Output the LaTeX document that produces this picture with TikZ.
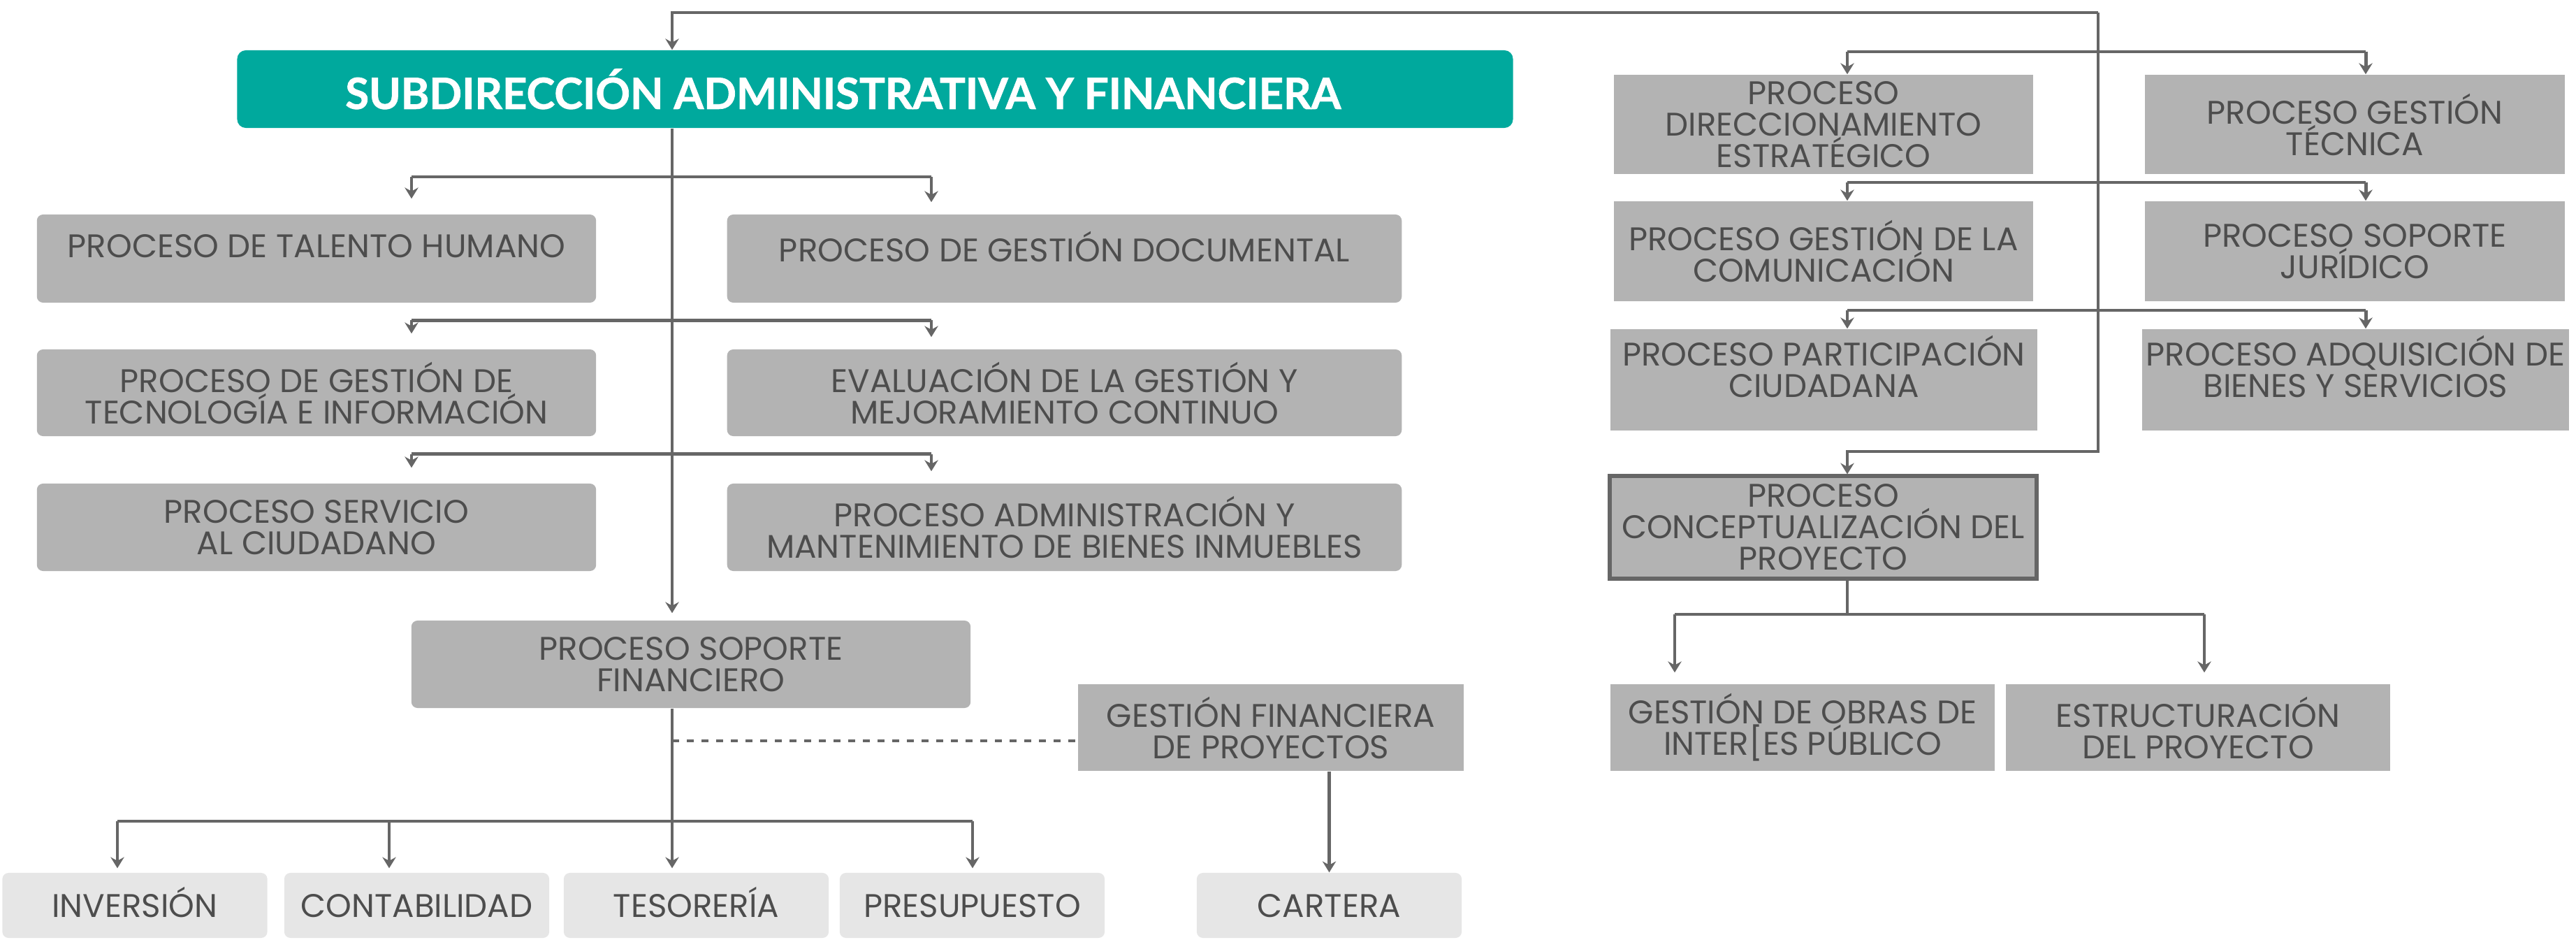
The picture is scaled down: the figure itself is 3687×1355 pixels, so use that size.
\documentclass[tikz,border=0pt]{standalone}
\usepackage{fontspec}
\setmainfont{Poppins}
\newfontfamily\headfont{Lato}[BoldFeatures={FakeBold=1.2}]
\usepackage{xcolor}
\usepackage{tikz}
\usetikzlibrary{arrows.meta}
\definecolor{headteal}{HTML}{00A99D}
\definecolor{boxgray}{HTML}{B3B3B3}
\definecolor{leafgray}{HTML}{E6E6E6}
\definecolor{linegray}{HTML}{666666}
\definecolor{textgray}{HTML}{4D4D4D}
\tikzstyle{head}=[rectangle, fill=headteal, rounded corners=3.5pt, text=white,
        minimum width=18.25cm, minimum height=1.11cm,
        font=\headfont\bfseries\fontsize{17.5}{18}\selectfont]
\tikzstyle{proc}=[rectangle, fill=boxgray, text=textgray, align=center,
        inner sep=0pt, font=\fontsize{13.3}{12.8}\selectfont]
\tikzstyle{rproc}=[proc, rounded corners=2.5pt]
\tikzstyle{leaf}=[rproc, fill=leafgray, minimum width=3.79cm, minimum height=0.93cm,
        text height=9.5pt]
\tikzstyle{mainproc}=[proc, draw=linegray, line width=1.7pt]
\tikzstyle{link}=[draw=linegray, line width=1.4pt]
\tikzstyle{dots}=[link, dash pattern=on 0.1cm off 0.11cm]

\begin{document}
\begin{tikzpicture}
      [x=0.01cm, y=-0.01cm, >={Stealth[length=4.5pt, width=5.5pt, inset=1.5pt]}]
      \useasboundingbox (0,0) rectangle (3687,1355);
      % Place nodes
      \node [head] (subdir) at (1252.5,127.5) {SUBDIRECCIÓN ADMINISTRATIVA Y FINANCIERA\hspace*{0.92cm}};
      \node [rproc, minimum width=8cm, minimum height=1.26cm, text depth=10pt] (talento) at (453,370) {PROCESO DE TALENTO HUMANO};
      \node [rproc, minimum width=9.65cm, minimum height=1.26cm, text depth=10pt] (documental) at (1523.5,370) {PROCESO DE GESTIÓN DOCUMENTAL};
      \node [rproc, minimum width=8cm, minimum height=1.24cm] (tecno) at (453,562) {PROCESO DE GESTIÓN DE\\TECNOLOGÍA E INFORMACIÓN};
      \node [rproc, minimum width=9.65cm, minimum height=1.24cm] (evaluacion) at (1523.5,562) {EVALUACIÓN DE LA GESTIÓN Y\\MEJORAMIENTO CONTINUO};
      \node [rproc, minimum width=8cm, minimum height=1.25cm] (servicio) at (453,754.5) {PROCESO SERVICIO\\AL CIUDADANO};
      \node [rproc, minimum width=9.65cm, minimum height=1.25cm] (inmuebles) at (1523.5,754.5) {PROCESO ADMINISTRACIÓN Y\\MANTENIMIENTO DE BIENES INMUEBLES};
      \node [rproc, minimum width=8cm, minimum height=1.25cm] (financiero) at (989,950.5) {PROCESO SOPORTE\\FINANCIERO};
      \node [proc, minimum width=5.52cm, minimum height=1.24cm] (gfp) at (1819,1041) {GESTIÓN FINANCIERA\\DE PROYECTOS};
      \node [leaf] (inversion) at (193,1295.5) {INVERSIÓN};
      \node [leaf] (contabilidad) at (596.5,1295.5) {CONTABILIDAD};
      \node [leaf] (tesoreria) at (996.5,1295.5) {TESORERÍA};
      \node [leaf] (presupuesto) at (1391.5,1295.5) {PRESUPUESTO};
      \node [leaf] (cartera) at (1902.5,1295.5) {CARTERA};
      \node [proc, minimum width=6cm, minimum height=1.42cm] (direcc) at (2610,178) {PROCESO\\DIRECCIONAMIENTO\\ESTRATÉGICO};
      \node [proc, minimum width=6cm, minimum height=1.42cm] (tecnica) at (3370.5,178) {PROCESO GESTIÓN\\TÉCNICA};
      \node [proc, minimum width=6cm, minimum height=1.43cm] (comunic) at (2610,359.5) {PROCESO GESTIÓN DE LA\\COMUNICACIÓN};
      \node [proc, minimum width=6cm, minimum height=1.43cm] (juridico) at (3370.5,359.5) {PROCESO SOPORTE\\JURÍDICO};
      \node [proc, minimum width=6.11cm, minimum height=1.45cm, text depth=11pt] (particip) at (2610.5,543.5) {PROCESO PARTICIPACIÓN\\CIUDADANA};
      \node [proc, minimum width=6.11cm, minimum height=1.45cm, text depth=11pt] (adquis) at (3371.5,543.5) {PROCESO ADQUISICIÓN DE\\BIENES Y SERVICIOS};
      \node [mainproc, minimum width=6.1cm, minimum height=1.46cm] (concep) at (2609.5,754.5) {PROCESO\\CONCEPTUALIZACIÓN DEL\\PROYECTO};
      \node [proc, minimum width=5.5cm, minimum height=1.24cm] (obras) at (2580,1041) {GESTIÓN DE OBRAS DE\\INTER[ES PÚBLICO};
      \node [proc, minimum width=5.5cm, minimum height=1.24cm] (estruct) at (3146,1041) {ESTRUCTURACIÓN\\DEL PROYECTO};
      % Junctions
      \coordinate (spine) at (962,18);
      \coordinate (hub) at (3003,18);
      \coordinate (rtrunk) at (2644,646);
      \coordinate (dotjoin) at (962,1060);
      % Draw edges
      \draw [link, ->] (hub) -- (spine) -- (spine |- subdir.north);
      \draw [link, ->] (hub) |- (rtrunk) -- (rtrunk |- concep.north);
      \foreach \l/\r/\y in {direcc/tecnica/74, comunic/juridico/261, particip/adquis/444} {
        \draw [link] (2644,\y) -- (3386,\y);
        \draw [link, ->] (2644,\y) -- (\l.north -| 2644,0);
        \draw [link, ->] (3386,\y) -- (\r.north -| 3386,0);
      }
      \foreach \l/\r/\y in {talento/documental/253, tecno/evaluacion/458.5, servicio/inmuebles/649.5} {
        \draw [link] (589,\y) -- (1333,\y);
        \draw [link, ->] (589,\y) -- ([yshift=0.22cm]\l.north -| 589,0);
        \draw [link, ->] (1333,\y) -- ([yshift=0.17cm]\r.north -| 1333,0);
      }
      \draw [link, ->] (subdir.south -| spine) -- ([yshift=0.1cm]financiero.north -| spine);
      \draw [link] (financiero.south -| spine) -- (962,1175);
      \draw [link] (168,1175) -- (1392,1175);
      \foreach \n/\x in {inversion/168, contabilidad/557, tesoreria/962, presupuesto/1392}
        \draw [link, ->] (\x,1175) -- ([yshift=0.06cm]\n.north -| \x,0);
      \draw [dots] (dotjoin) -- (dotjoin -| gfp.west);
      \draw [link, ->] (cartera.north |- gfp.south) -- (cartera.north);
      \draw [link] (concep.south -| rtrunk) -- (2644,879);
      \draw [link] (2397,879) -- (3155,879);
      \draw [link, ->] (2397,879) -- ([yshift=0.16cm]obras.north -| 2397,0);
      \draw [link, ->] (3155,879) -- ([yshift=0.16cm]estruct.north -| 3155,0);
\end{tikzpicture}
\end{document}
